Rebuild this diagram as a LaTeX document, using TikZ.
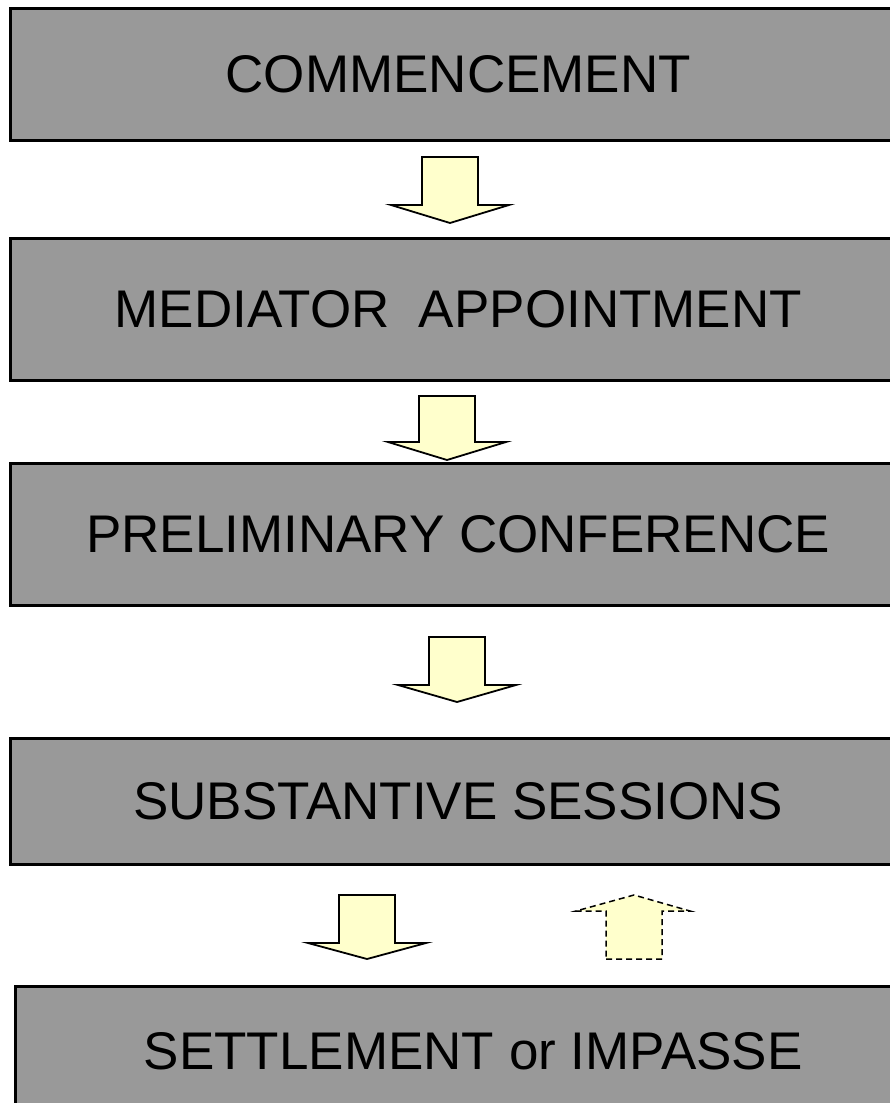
\documentclass[tikz,border=0pt]{standalone}
\usepackage{fontspec}
\setmainfont{Liberation Sans}
\usepackage{tikz}
\usetikzlibrary{positioning}
\definecolor{stagegray}{RGB}{153,153,153}
\definecolor{stageyellow}{RGB}{255,255,204}
\tikzset{
  stagebox/.style={
    rectangle,
    draw=black,
    line width=2.5pt,
    fill=stagegray,
    anchor=north west,
    minimum width=896pt,
    inner sep=0pt,
    align=center,
    font=\fontsize{53}{60}\selectfont
  },
  stagearrow/.style={
    draw=black,
    line width=1.8pt,
    fill=stageyellow,
    line join=miter
  }
}
\begin{document}
\begin{tikzpicture}[x=1pt, y=-1pt]
\useasboundingbox (0,0) rectangle (889,1103);

\node[stagebox, minimum height=132pt] (commence) at (9,7) {COMMENCEMENT};
\node[stagebox, minimum height=142pt] (mediator) at (9,237) {MEDIATOR\ \ APPOINTMENT};
\node[stagebox, minimum height=142pt] (prelim) at (9,462) {PRELIMINARY CONFERENCE};
\node[stagebox, minimum height=126pt] (sessions) at (9,737) {SUBSTANTIVE SESSIONS};
\node[stagebox, minimum height=130pt, minimum width=916pt] (outcome) at (14,985) {SETTLEMENT or IMPASSE};

% block arrows between the stages
\coordinate (downa) at (450,157);
\coordinate (downb) at (447,396);
\coordinate (downc) at (457,637);
\coordinate (downd) at (367,895);
\coordinate (upback) at (634,959);

\draw[stagearrow] (downa) ++(-28,0) -- ++(56,0) -- ++(0,48) -- ++(31,0) -- ++(-59,18) -- ++(-59,-18) -- ++(31,0) -- cycle;
\draw[stagearrow] (downb) ++(-28,0) -- ++(56,0) -- ++(0,46) -- ++(31,0) -- ++(-59,18) -- ++(-59,-18) -- ++(31,0) -- cycle;
\draw[stagearrow] (downc) ++(-28,0) -- ++(56,0) -- ++(0,48) -- ++(31,0) -- ++(-59,17) -- ++(-59,-17) -- ++(31,0) -- cycle;
\draw[stagearrow] (downd) ++(-28,0) -- ++(56,0) -- ++(0,48) -- ++(31,0) -- ++(-59,16) -- ++(-59,-16) -- ++(31,0) -- cycle;
\draw[stagearrow, dashed, line width=1.5pt, dash pattern=on 6pt off 4pt] (upback) ++(-28,0) -- ++(56,0) -- ++(0,-48) -- ++(28,0) -- ++(-56,-16) -- ++(-58,16) -- ++(30,0) -- cycle;
\end{tikzpicture}
\end{document}
